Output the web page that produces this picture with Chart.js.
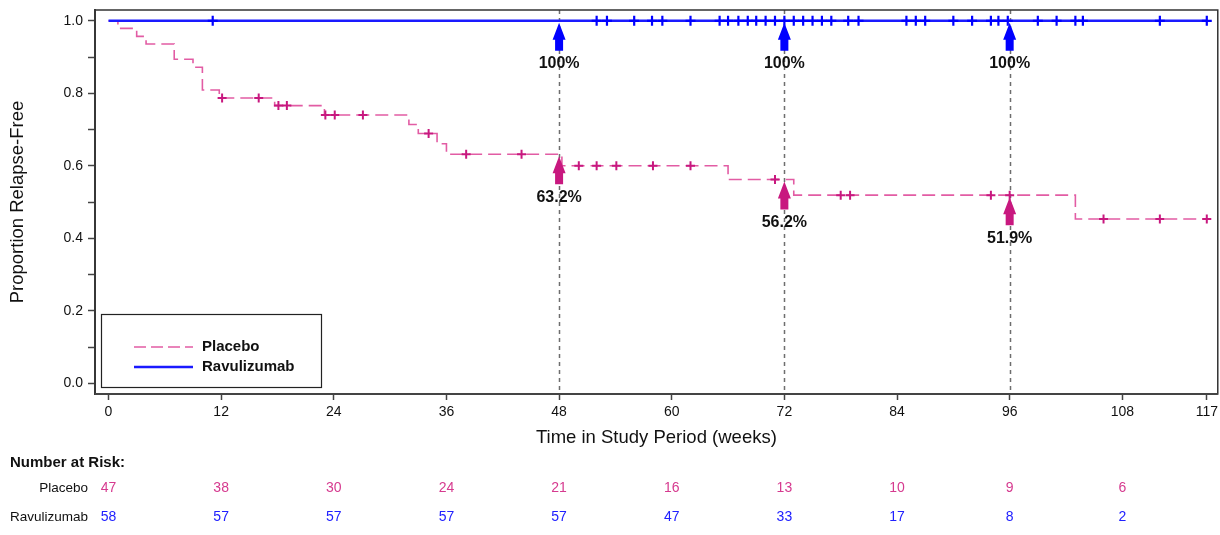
<!DOCTYPE html>
<html>
<head>
<meta charset="utf-8">
<script src="https://cdn.jsdelivr.net/npm/chart.js@4/dist/chart.umd.min.js"></script>
<style>
  html, body { margin: 0; padding: 0; background: #fff; overflow: hidden; }
  #km { display: block; }
</style>
</head>
<body>
<canvas id="km" width="1220" height="535"></canvas>
<script>
// ---- data ----
const tickWeeks = [0, 12, 24, 36, 48, 60, 72, 84, 96, 108, 117];
const yTicks = [0, 0.1, 0.2, 0.3, 0.4, 0.5, 0.6, 0.7, 0.8, 0.9, 1.0];

// Placebo Kaplan-Meier steps (week, proportion after the step)
const placeboTimes = [0, 1, 3, 4, 7, 9, 10, 11.8, 17.7, 23, 32, 33, 35, 36, 48.3, 66, 73, 103, 117];
const placeboSurv  = [1, 0.979, 0.957, 0.936, 0.894, 0.872, 0.809, 0.787, 0.766, 0.740, 0.714, 0.689, 0.661, 0.632, 0.600, 0.562, 0.519, 0.453, 0.453];
const placeboCensor = [12.1, 16, 18.1, 19, 23.1, 24.1, 27.1, 34.1, 38.1, 44, 50.1, 52, 54.1, 58, 62, 71, 78, 79, 94, 96, 106, 112, 117];

// Ravulizumab: no relapses
const ravTimes = [0, 117];
const ravSurv  = [1, 1];
const ravCensor = [11.1, 52, 53.1, 56, 57.9, 59, 62, 65.1, 66, 67.1, 68.1, 69, 70, 71, 72, 73, 74, 75, 76, 77,
                   78.8, 79.9, 85, 86, 87, 90, 92, 94, 94.8, 95.8, 99, 101, 103, 103.8, 112, 117];

// marked time points and estimates
const refWeeks = [48, 72, 96];
const placeboAt = [0.632, 0.562, 0.519];
const placeboAtLabels = ['63.2%', '56.2%', '51.9%'];
const ravAt = [1, 1, 1];
const ravAtLabels = ['100%', '100%', '100%'];

// number at risk
const riskWeeks = [0, 12, 24, 36, 48, 60, 72, 84, 96, 108];
const placeboRisk = [47, 38, 30, 24, 21, 16, 13, 10, 9, 6];
const ravRisk = [58, 57, 57, 57, 57, 47, 33, 17, 8, 2];

const X_MIN = -1.44;
const X_MAX = 117.64;
const FRAME_END = 118.17; // right edge of the plot frame, in weeks

const PINK_LINE = '#e25ca4';
const PINK_MARK = '#c8187f';
const PINK_TEXT = '#d63a8f';
const BLUE = '#1a1aff';
const FONT = '"Liberation Sans", Arial, sans-serif';

function survAt(t) {
  let s = placeboSurv[0];
  for (let i = 0; i < placeboTimes.length; i++) {
    if (placeboTimes[i] <= t) s = placeboSurv[i];
  }
  return s;
}

function drawArrow(ctx, px, py, color) {
  const tip = py + 2;
  ctx.save();
  ctx.fillStyle = color;
  ctx.beginPath();
  ctx.moveTo(px, tip);
  ctx.lineTo(px + 6.5, tip + 17);
  ctx.lineTo(px + 4, tip + 17);
  ctx.lineTo(px + 4, tip + 28);
  ctx.lineTo(px - 4, tip + 28);
  ctx.lineTo(px - 4, tip + 17);
  ctx.lineTo(px - 6.5, tip + 17);
  ctx.closePath();
  ctx.fill();
  ctx.restore();
}

const overlay = {
  id: 'overlay',
  beforeDatasetsDraw(chart) {
    const { ctx, chartArea: a, scales: { x } } = chart;
    ctx.save();
    ctx.strokeStyle = '#6e6e6e';
    ctx.lineWidth = 1.5;
    ctx.setLineDash([4, 4]);
    refWeeks.forEach(w => {
      const px = Math.round(x.getPixelForValue(w)) + 0.5;
      ctx.beginPath();
      ctx.moveTo(px, a.top);
      ctx.lineTo(px, a.bottom);
      ctx.stroke();
    });
    ctx.restore();
  },
  afterDatasetsDraw(chart) {
    const { ctx, scales: { x, y } } = chart;
    ctx.save();
    ctx.font = 'bold 16px ' + FONT;
    ctx.textAlign = 'center';
    ctx.textBaseline = 'middle';
    ctx.fillStyle = '#111';
    refWeeks.forEach((w, i) => {
      const px = x.getPixelForValue(w);
      const pb = y.getPixelForValue(ravAt[i]);
      drawArrow(ctx, px, pb, '#0000ff');
      ctx.fillText(ravAtLabels[i], px, pb + 43);
      const pp = y.getPixelForValue(placeboAt[i]);
      drawArrow(ctx, px, pp, PINK_MARK);
      ctx.fillText(placeboAtLabels[i], px, pp + 43);
    });
    ctx.restore();
  },
  afterDraw(chart) {
    const { ctx, chartArea: a, scales: { x } } = chart;
    ctx.save();
    // frame
    const right = x.getPixelForValue(FRAME_END);
    ctx.strokeStyle = '#333';
    ctx.lineWidth = 1.5;
    ctx.strokeRect(a.left, a.top, right - a.left, a.bottom - a.top);
    ctx.strokeStyle = '#444';
    ctx.lineWidth = 2;
    ctx.beginPath(); ctx.moveTo(a.left, a.bottom); ctx.lineTo(right, a.bottom); ctx.stroke();

    // x tick labels
    ctx.fillStyle = '#111';
    ctx.font = '14px ' + FONT;
    ctx.textAlign = 'center';
    ctx.textBaseline = 'middle';
    tickWeeks.forEach(w => ctx.fillText(String(w), x.getPixelForValue(w), a.bottom + 18));

    // axis titles
    ctx.font = '18.5px ' + FONT;
    ctx.fillText('Time in Study Period (weeks)', (a.left + right) / 2, 438);
    ctx.save();
    ctx.translate(18, (a.top + a.bottom) / 2);
    ctx.rotate(-Math.PI / 2);
    ctx.fillText('Proportion Relapse-Free', 0, 0);
    ctx.restore();

    // legend box
    ctx.fillStyle = '#fff';
    ctx.fillRect(101.5, 314.5, 220, 73);
    ctx.strokeStyle = '#222';
    ctx.lineWidth = 1.2;
    ctx.strokeRect(101.5, 314.5, 220, 73);
    ctx.strokeStyle = PINK_LINE;
    ctx.lineWidth = 1.6;
    ctx.setLineDash([12, 5]);
    ctx.beginPath(); ctx.moveTo(134, 347); ctx.lineTo(193, 347); ctx.stroke();
    ctx.setLineDash([]);
    ctx.strokeStyle = BLUE;
    ctx.lineWidth = 2.5;
    ctx.beginPath(); ctx.moveTo(134, 367); ctx.lineTo(193, 367); ctx.stroke();
    ctx.fillStyle = '#111';
    ctx.font = 'bold 15px ' + FONT;
    ctx.textAlign = 'left';
    ctx.fillText('Placebo', 202, 347);
    ctx.fillText('Ravulizumab', 202, 367);

    // number at risk table
    ctx.font = 'bold 15px ' + FONT;
    ctx.fillText('Number at Risk:', 10, 463);
    ctx.font = '13.5px ' + FONT;
    ctx.textAlign = 'right';
    ctx.fillText('Placebo', 88, 488);
    ctx.fillText('Ravulizumab', 88, 517);
    ctx.font = '14px ' + FONT;
    ctx.textAlign = 'center';
    riskWeeks.forEach((w, i) => {
      const px = x.getPixelForValue(w);
      ctx.fillStyle = PINK_TEXT;
      ctx.fillText(String(placeboRisk[i]), px, 488);
      ctx.fillStyle = '#2020ff';
      ctx.fillText(String(ravRisk[i]), px, 517);
    });
    ctx.restore();
  }
};

const config = {
  type: 'line',
  data: {
    datasets: [
      {
        label: 'Placebo',
        data: placeboTimes.map((t, i) => ({ x: t, y: placeboSurv[i] })),
        stepped: true,
        borderColor: PINK_LINE,
        borderWidth: 1.6,
        borderDash: [13, 6],
        pointRadius: 0,
        fill: false,
        order: 4
      },
      {
        label: 'Ravulizumab',
        data: ravTimes.map((t, i) => ({ x: t, y: ravSurv[i] })),
        stepped: true,
        borderColor: BLUE,
        borderWidth: 2.5,
        pointRadius: 0,
        fill: false,
        order: 3
      },
      {
        label: 'Placebo censored',
        data: placeboCensor.map(t => ({ x: t, y: survAt(t) })),
        showLine: false,
        pointStyle: 'cross',
        pointRadius: 4.5,
        pointBorderWidth: 2,
        pointBorderColor: PINK_MARK,
        borderColor: PINK_MARK,
        order: 2
      },
      {
        label: 'Ravulizumab censored',
        data: ravCensor.map(t => ({ x: t, y: 1 })),
        showLine: false,
        pointStyle: 'cross',
        pointRadius: 5,
        pointBorderWidth: 2.2,
        pointBorderColor: '#0000ff',
        borderColor: '#0000ff',
        order: 1
      }
    ]
  },
  options: {
    responsive: false,
    animation: false,
    layout: { padding: { left: 0, right: 2, top: 10, bottom: 111 } },
    plugins: { legend: { display: false }, tooltip: { enabled: false } },
    scales: {
      x: {
        type: 'linear',
        min: X_MIN,
        max: X_MAX,
        afterBuildTicks: s => { s.ticks = tickWeeks.map(v => ({ value: v })); },
        afterFit: s => { s.height = 30; s.paddingLeft = 0; s.paddingRight = 0; },
        ticks: { display: false },
        grid: { display: true, drawOnChartArea: false, drawTicks: true, tickLength: 6, color: '#444', tickWidth: 1.5 },
        border: { display: true, color: '#444', width: 2 }
      },
      y: {
        type: 'linear',
        min: -0.0296,
        max: 1.0298,
        afterBuildTicks: s => { s.ticks = yTicks.map(v => ({ value: v })); },
        afterFit: s => { s.width = 95; s.paddingTop = 0; s.paddingBottom = 0; },
        ticks: {
          color: '#111',
          font: { size: 14, family: FONT },
          padding: 5,
          autoSkip: false,
          callback: v => (Math.round(v * 10) % 2 === 0 ? v.toFixed(1) : '')
        },
        grid: { display: true, drawOnChartArea: false, drawTicks: true, tickLength: 7, color: '#444', tickWidth: 1.5 },
        border: { display: true, color: '#444', width: 2 }
      }
    }
  },
  plugins: [overlay]
};

new Chart(document.getElementById('km'), config);
</script>
</body>
</html>
